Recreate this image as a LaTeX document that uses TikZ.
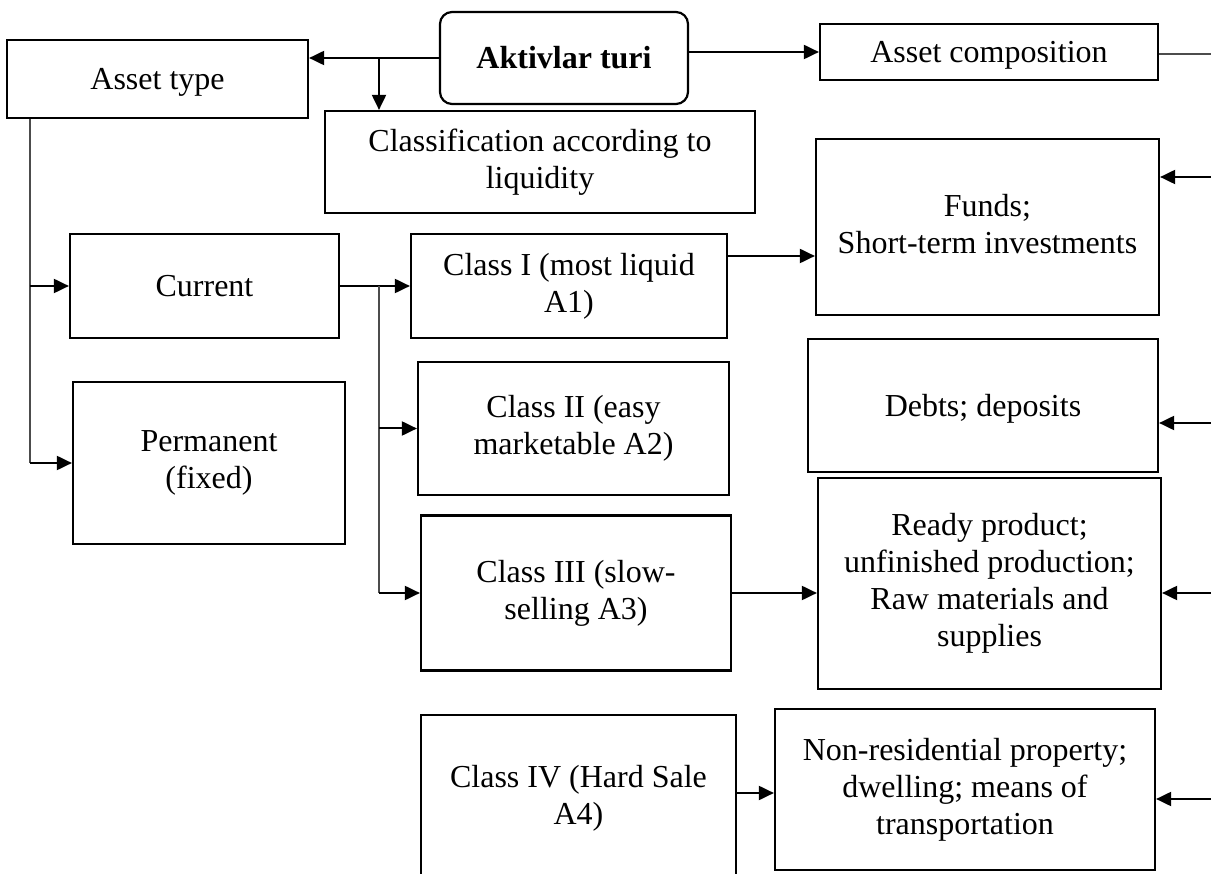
\documentclass[tikz,border=0pt]{standalone}
\usepackage{fontspec}
\setmainfont{Liberation Serif}
\usetikzlibrary{arrows.meta}

\tikzset{
  box/.style={draw, line width=2.2pt, align=center, inner sep=0pt,
              font=\fontsize{32pt}{37pt}\selectfont,
              execute at begin node={\rule{0pt}{0.89em}},
              execute at end node={\rule[-0.22em]{0pt}{0.22em}}},
  arr/.style={line width=2pt, -{Triangle[length=15pt,width=14pt]}},
  wire/.style={line width=1.3pt, black!70},
}

\begin{document}
\begin{tikzpicture}[x=1pt, y=-1pt]
\clip (0,0) rectangle (1211,874);

% top row
\node [box, rounded corners=12pt, minimum width=248pt, minimum height=92pt] (main) at (564,58) {\textbf{Aktivlar turi}};
\node [box, minimum width=301pt, minimum height=78pt] (type) at (157.5,79) {Asset type};
\node [box, minimum width=338pt, minimum height=56pt] (comp) at (989,52) {Asset composition};
\node [box, minimum width=430pt, minimum height=102pt] (liquid) at (540,162) {Classification according to\\liquidity};

% asset type branch
\node [box, minimum width=269pt, minimum height=104pt] (current) at (204.5,286) {Current};
\node [box, minimum width=272pt, minimum height=162pt] (perm) at (209,463) {Permanent\\(fixed)};

% liquidity classes
\node [box, minimum width=316pt, minimum height=104pt] (c1) at (569,286) {Class I (most liquid\\A1)};
\node [box, minimum width=311pt, minimum height=133pt] (c2) at (573.5,428.5) {Class II (easy\\marketable A2)};
\node [box, minimum width=310pt, minimum height=155pt] (c3) at (576,593) {Class III (slow-\\selling A3)};
\node [box, minimum width=315pt, minimum height=166pt] (c4) at (578.5,798) {Class IV (Hard Sale\\A4)};

% composition
\node [box, minimum width=343pt, minimum height=176pt] (funds) at (987.5,227) {Funds;\\Short-term investments};
\node [box, minimum width=350pt, minimum height=133pt] (debts) at (983,405.5) {Debts; deposits};
\node [box, minimum width=343pt, minimum height=211pt] (ready) at (989.5,583.5) {Ready product;\\unfinished production;\\Raw materials and\\supplies};
\node [box, minimum width=380pt, minimum height=161pt] (nonres) at (965,789.5) {Non-residential property;\\dwelling; means of\\transportation};

%%%%%%%%%%%%%%%%%%%%%%%%%%%%%%%%%%%%%%%%

\coordinate (b1) at (379,58);
\coordinate (trunk) at ([xshift=24pt]type.south west);
\coordinate (b2) at ([xshift=39pt]current.east);
\coordinate (edge) at (1211,54);
\coordinate (e1) at (1211,177);
\coordinate (e2) at (1211,423);
\coordinate (e3) at (1211,593);
\coordinate (e4) at (1211,799);
\coordinate (f1) at ([yshift=30pt]c1.east);
\coordinate (f4) at ([yshift=5pt]c4.east);

\draw [arr] (main.west) -- (main.west -| type.east);
\draw [arr] (b1) -- (b1 |- liquid.north);
\draw [arr] (main.east |- comp.west) -- (comp.west);
\draw [wire] (comp.east |- edge) -- (edge);

\draw [wire] (trunk) -- (trunk |- perm.west);
\draw [arr] (trunk |- current.west) -- (current.west);
\draw [arr] (trunk |- perm.west) -- (perm.west);

\draw [arr] (current.east) -- (c1.west);
\draw [wire] (b2) -- (b2 |- c3.west);
\draw [arr] (b2 |- c2.west) -- (c2.west);
\draw [arr] (b2 |- c3.west) -- (c3.west);

\draw [arr] (f1) -- (f1 -| funds.west);
\draw [arr] (c3.east) -- (c3.east -| ready.west);
\draw [arr] (f4) -- (f4 -| nonres.west);

\draw [arr] (e1) -- (e1 -| funds.east);
\draw [arr] (e2) -- (e2 -| debts.east);
\draw [arr] (e3) -- (e3 -| ready.east);
\draw [arr] (e4) -- (e4 -| nonres.east);

\end{tikzpicture}
\end{document}
